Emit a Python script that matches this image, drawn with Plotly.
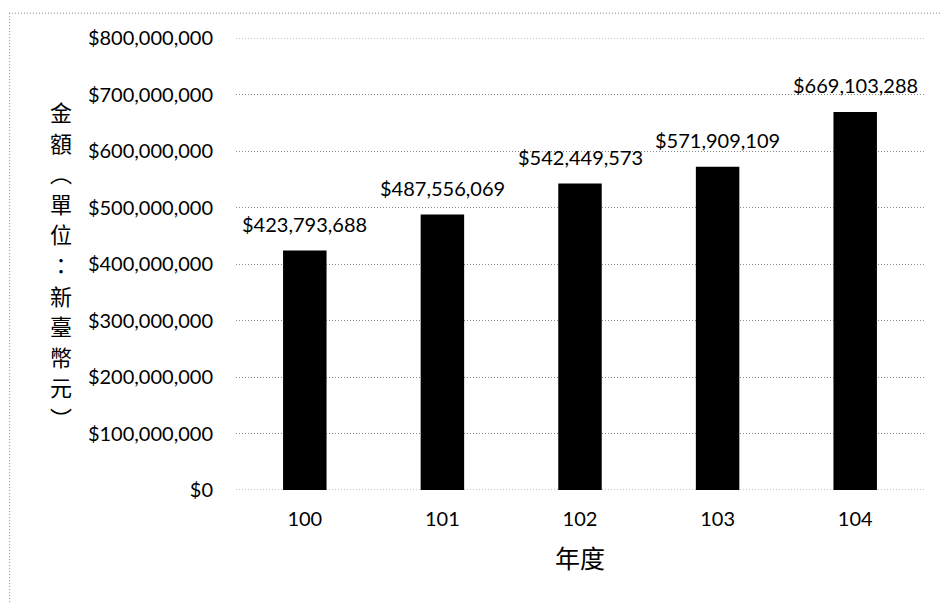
import plotly.graph_objects as go

# 年度別金額
years = ["100", "101", "102", "103", "104"]
amounts = [423793688, 487556069, 542449573, 571909109, 669103288]
y_ticks = [0, 100000000, 200000000, 300000000, 400000000,
           500000000, 600000000, 700000000, 800000000]
y_tick_text = [f"${v:,}" for v in y_ticks]
y_title_chars = ["金", "額", "︵", "單", "位", "：", "新", "臺", "幣", "元", "︶"]
x_title = "年度"

latin_font = "Lato, 'Open Sans', sans-serif"
cjk_font = "'Noto Sans CJK TC', 'Noto Sans CJK SC', sans-serif"
grid_dash = "1px,2px"
grid_color = "#8a8a8a"

fig = go.Figure()
fig.add_trace(go.Bar(
    x=years,
    y=amounts,
    marker=dict(color="#000000", line=dict(width=0)),
    hoverinfo="x+y",
))

# value labels above each bar (category axis positions are serial indices)
for idx, v in enumerate(amounts):
    fig.add_annotation(
        x=idx, y=v, xref="x", yref="y",
        text=f"${v:,}",
        showarrow=False, yanchor="bottom", yshift=13,
        font=dict(family=latin_font, size=20, color="#000000"),
    )

# vertical y-axis title, one character per row
step = 30.6
mid = (len(y_title_chars) - 1) / 2
for i, ch in enumerate(y_title_chars):
    fig.add_annotation(
        x=-0.255, y=0.5, xref="paper", yref="paper",
        text=ch, showarrow=False,
        xanchor="center", yanchor="middle",
        yshift=(mid - i) * step,
        font=dict(family=cjk_font, size=22, color="#000000"),
    )

fig.add_annotation(
    x=0.5, y=-0.148, xref="paper", yref="paper",
    text=x_title, showarrow=False, xanchor="center", yanchor="middle",
    font=dict(family=cjk_font, size=25, color="#000000"),
)

# dotted chart border (top and left)
border = dict(color="#888888", width=1, dash=grid_dash)
fig.add_shape(type="line", xref="paper", yref="paper",
              x0=-0.33, x1=1.03, y0=1.055, y1=1.055, line=border)
fig.add_shape(type="line", xref="paper", yref="paper",
              x0=-0.329, x1=-0.329, y0=1.055, y1=-0.25, line=border)

fig.update_layout(
    width=941, height=603,
    margin=dict(l=236, r=17, t=38, b=113),
    paper_bgcolor="#ffffff", plot_bgcolor="#ffffff",
    bargap=0.684,
    showlegend=False,
    font=dict(family=latin_font, size=20, color="#000000"),
    xaxis=dict(
        type="category",
        range=[-0.5, len(years) - 0.5],
        showgrid=False, showline=False, zeroline=False,
        ticks="", ticklabelstandoff=15,
        tickfont=dict(family=latin_font, size=20, color="#000000"),
    ),
    yaxis=dict(
        range=[0, 800000000],
        tickmode="array",
        tickvals=y_ticks,
        ticktext=y_tick_text,
        showgrid=True, gridcolor=grid_color, gridwidth=1, griddash=grid_dash,
        zeroline=False, showline=False,
        ticks="", ticklabelstandoff=22,
        tickfont=dict(family=latin_font, size=20, color="#000000"),
    ),
)

# gridlines at both ends of the value range
for edge in (y_ticks[0], y_ticks[-1]):
    fig.add_shape(type="line", xref="paper", yref="y", layer="below",
                  x0=0, x1=1, y0=edge, y1=edge,
                  line=dict(color=grid_color, width=1, dash=grid_dash))

fig.write_html("out.html")
